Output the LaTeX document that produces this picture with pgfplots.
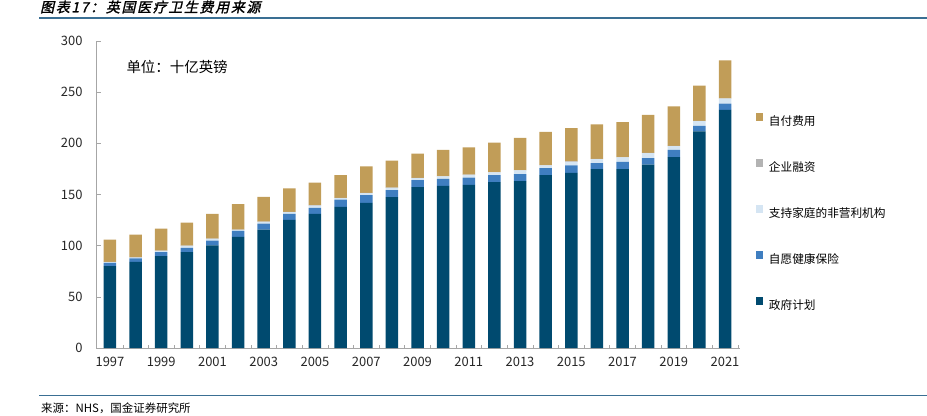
\documentclass[border=0pt]{standalone}
\usepackage{fontspec}
\setmainfont{Noto Sans CJK SC}
\newfontfamily\titlefont{Noto Sans CJK SC}[FakeSlant=0.22,FakeBold=1.5,LetterSpace=12]
\usepackage{pgfplots}
\usepackage{pgfplotstable}
\pgfplotsset{compat=1.18}
\definecolor{cgov}{HTML}{004A6F}
\definecolor{cvol}{HTML}{3F7EC0}
\definecolor{cnpi}{HTML}{D5E5F3}
\definecolor{ccorp}{HTML}{B3B3B3}
\definecolor{coop}{HTML}{C19D58}
\definecolor{cline}{HTML}{3A6F93}
\definecolor{caxis}{HTML}{A6A6A6}
\pgfplotstableread{
x gov vol npi corp oop
0  79.9 3.2 0.7 0.3 21.9
1  84.1 3.6 0.7 0.3 22.2
2  89.7 3.9 1.3 0.3 21.5
3  93.6 4.2 2.0 0.3 22.5
4  100.4 4.6 1.6 0.3 24.2
5  108.6 5.8 1.0 0.3 24.8
6  115.7 5.9 1.7 0.3 24.1
7  125.2 5.9 1.6 0.3 22.9
8  131.1 5.8 2.3 0.3 22.2
9  137.9 7.2 1.3 0.3 22.2
10 141.8 7.5 2.0 0.3 25.8
11 147.5 6.7 2.3 0.3 26.2
12 157.2 6.8 2.0 0.3 23.7
13 158.5 6.8 2.3 0.3 25.8
14 159.4 7.2 2.6 0.3 26.5
15 162.0 6.9 2.6 0.3 29.0
16 163.0 6.9 3.6 0.3 31.6
17 168.9 6.8 2.7 0.3 32.6
18 171.2 7.2 3.6 0.3 32.6
19 174.8 5.8 4.0 0.3 33.6
20 174.8 7.1 4.3 0.3 34.2
21 179.3 6.2 4.9 0.3 37.2
22 186.5 7.2 3.6 0.3 38.5
23 211.6 5.5 4.6 0.3 34.3
24 232.8 5.9 4.9 0.3 37.1
}\datatable
\begin{document}
\begin{tikzpicture}
\path[use as bounding box] (0,0) rectangle (927bp,416bp);
\begin{axis}[
  at={(96bp,68bp)}, anchor=south west,
  scale only axis, width=644bp, height=307bp,
  ybar stacked, bar width=12.5bp,
  xmin=-0.546, xmax=24.585, ymin=0, ymax=300,
  axis x line*=bottom, axis y line*=left,
  axis line style={caxis, line width=0.8pt},
  xtick={0,2,...,24},
  xticklabels={1997,1999,2001,2003,2005,2007,2009,2011,2013,2015,2017,2019,2021},
  minor xtick={0.5,1.5,...,24.5},
  major x tick style={draw=none},
  minor x tick style={caxis, line width=0.6pt},
  minor tick length=3bp,
  ytick={0,50,...,300},
  y tick style={caxis, line width=0.6pt},
  major tick length=5bp,
  tick align=inside,
  ticklabel style={font=\fontsize{13}{15}\selectfont, text=black!85},
  xticklabel style={yshift=-6bp},
  yticklabel style={xshift=-10bp},
  /pgf/number format/assume math mode=true,
  reverse legend,
  legend cell align=left,
  legend style={draw=none, fill=none, inner sep=0pt, outer sep=0pt,
    at={(1.0248,0.764)}, anchor=north west,
    row sep=32.5bp, column sep=5.5bp,
    font=\fontsize{11.7}{13}\selectfont,
    nodes={inner sep=0pt, text height=9bp, text depth=1.5bp}},
  legend image code/.code={\fill[#1] (0bp,0.7bp) rectangle (7.5bp,8.2bp);},
  clip=false,
]
\addplot[fill=cgov, draw=none] table[x=x, y=gov] {\datatable};
\addlegendentry{政府计划}
\addplot[fill=cvol, draw=none] table[x=x, y=vol] {\datatable};
\addlegendentry{自愿健康保险}
\addplot[fill=cnpi, draw=none] table[x=x, y=npi] {\datatable};
\addlegendentry{支持家庭的非营利机构}
\addplot[fill=ccorp, draw=none] table[x=x, y=corp] {\datatable};
\addlegendentry{企业融资}
\addplot[fill=coop, draw=none] table[x=x, y=oop] {\datatable};
\addlegendentry{自付费用}
\end{axis}
\node[anchor=west, font=\fontsize{14.5}{16}\selectfont] at (123bp,{416bp-66.7bp}) {单位：十亿英镑};
\node[anchor=west, inner sep=0pt, font=\titlefont\fontsize{14}{16}\selectfont] at (40bp,{416bp-7bp}) {图表17：英国医疗卫生费用来源};
\draw[cline, line width=1.3pt] (39bp,{416bp-18bp}) -- (927bp,{416bp-18bp});
\draw[cline, line width=1pt] (39bp,{416bp-395bp}) -- (927bp,{416bp-395bp});
\node[anchor=west, inner sep=0pt, font=\fontsize{11.5}{13}\selectfont] at (41bp,{416bp-408bp}) {来源：NHS，国金证券研究所};
\end{tikzpicture}
\end{document}
